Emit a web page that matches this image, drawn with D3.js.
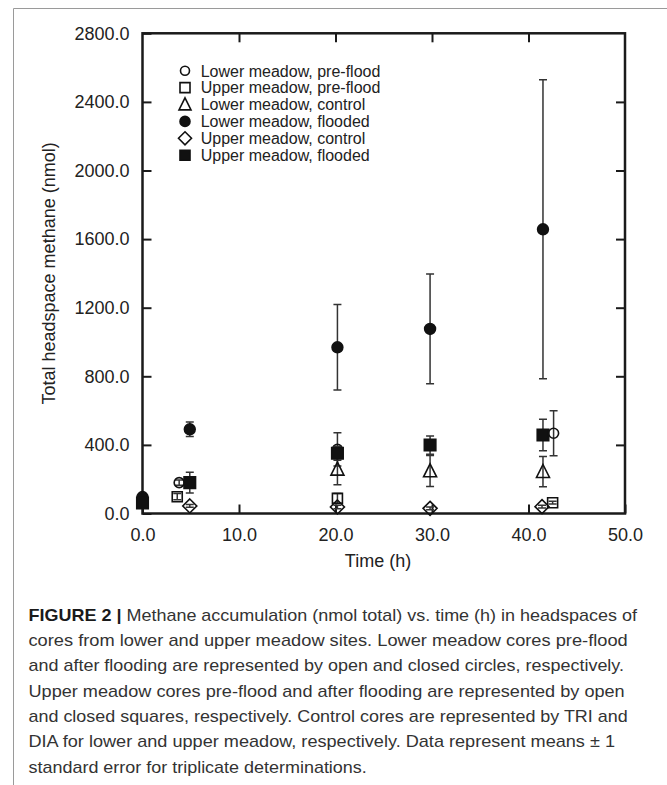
<!DOCTYPE html>
<html>
<head>
<meta charset="utf-8">
<script src="https://cdn.jsdelivr.net/npm/d3@7/dist/d3.min.js"></script>
<style>
  html, body { margin: 0; padding: 0; background: #fff; }
  svg { display: block; }
  text { font-family: "Liberation Sans", Arial, Helvetica, sans-serif; }
</style>
</head>
<body>
<svg id="chart" width="667" height="785"></svg>
<script>
// Sampling times (h), means (nmol) and standard errors for each core group
const lowerPreT = [3.8, 20.2, 42.6];
const lowerPreV = [180, 374, 468];
const lowerPreE = [15, 97, 131];

const upperPreT = [3.6, 20.2, 42.5];
const upperPreV = [98, 88, 63];
const upperPreE = [18, 28, 8];

const lowerCtlT = [20.2, 29.8, 41.5];
const lowerCtlV = [258, 248, 244];
const lowerCtlE = [90, 90, 88];

const lowerFloT = [0, 4.9, 20.2, 29.8, 41.5];
const lowerFloV = [96, 491, 969, 1076, 1657];
const lowerFloE = [15, 42, 249, 320, 872];

const upperCtlT = [4.9, 20.2, 29.8, 41.4];
const upperCtlV = [44, 38, 30, 40];
const upperCtlE = [8, 10, 8, 8];

const upperFloT = [0, 4.9, 20.2, 29.8, 41.5];
const upperFloV = [61, 180, 351, 399, 458];
const upperFloE = [10, 60, 40, 53, 92];

const legendLabels = [
  "Lower meadow, pre-flood",
  "Upper meadow, pre-flood",
  "Lower meadow, control",
  "Lower meadow, flooded",
  "Upper meadow, control",
  "Upper meadow, flooded"
];

const xTicks = [0, 10, 20, 30, 40, 50];
const yTicks = [0, 400, 800, 1200, 1600, 2000, 2400, 2800];

const captionLines = [
  "Methane accumulation (nmol total) vs. time (h) in headspaces of",
  "cores from lower and upper meadow sites. Lower meadow cores pre-flood",
  "and after flooding are represented by open and closed circles, respectively.",
  "Upper meadow cores pre-flood and after flooding are represented by open",
  "and closed squares, respectively. Control cores are represented by TRI and",
  "DIA for lower and upper meadow, respectively. Data represent means \u00b1 1",
  "standard error for triplicate determinations."
];

const svg = d3.select("#chart");

// page frame lines (left and top)
svg.append("path")
  .attr("d", "M13.5,785 V8.5 H667")
  .attr("fill", "none").attr("stroke", "#9a9a9a").attr("stroke-width", 1);

const x = d3.scaleLinear().domain([0, 50]).range([142.5, 625]);
const y = d3.scaleLinear().domain([0, 2800]).range([513.5, 33.3]);
const fmt = d3.format(".1f");

const axisColor = "#1a1a1a";

// bottom axis with labels
const gx = svg.append("g").attr("transform", `translate(0,${y(0)})`)
  .call(d3.axisBottom(x).tickValues(xTicks).tickFormat(fmt)
    .tickSizeInner(-9).tickSizeOuter(0).tickPadding(15));
// left axis with labels
const gy = svg.append("g").attr("transform", `translate(${x(0)},0)`)
  .call(d3.axisLeft(y).tickValues(yTicks).tickFormat(fmt)
    .tickSizeInner(-9).tickSizeOuter(0).tickPadding(13));
// mirrored top and right ticks
const gt = svg.append("g").attr("transform", `translate(0,${y(2800)})`)
  .call(d3.axisTop(x).tickValues(xTicks.slice(1, -1)).tickFormat("")
    .tickSizeInner(-9).tickSizeOuter(0));
const gr = svg.append("g").attr("transform", `translate(${x(50)},0)`)
  .call(d3.axisRight(y).tickValues(yTicks.slice(1, -1)).tickFormat("")
    .tickSizeInner(-9).tickSizeOuter(0));

[gx, gy, gt, gr].forEach(g => {
  g.select(".domain").remove();
  g.selectAll(".tick line").attr("stroke", axisColor).attr("stroke-width", 2);
  g.selectAll(".tick text").attr("fill", "#222")
    .style("font-size", "18px").style("font-family", "'Liberation Sans', Arial, sans-serif");
});

// plot frame
svg.append("rect")
  .attr("x", x(0)).attr("y", y(2800))
  .attr("width", x(50) - x(0)).attr("height", y(0) - y(2800))
  .attr("fill", "none").attr("stroke", axisColor).attr("stroke-width", 2.5);

// axis titles
svg.append("text")
  .attr("x", 378).attr("y", 567)
  .attr("text-anchor", "middle")
  .style("font-size", "18px").attr("fill", "#222")
  .text("Time (h)");

svg.append("text")
  .attr("transform", `translate(54.5,${(y(0) + y(2800)) / 2}) rotate(-90)`)
  .attr("text-anchor", "middle")
  .style("font-size", "18px").attr("fill", "#222")
  .text("Total headspace methane (nmol)");

// marker shapes
const markerPath = {
  circle: r => d3.symbol(d3.symbolCircle, Math.PI * r * r)(),
  square: s => `M${-s/2},${-s/2}H${s/2}V${s/2}H${-s/2}Z`,
  triangle: s => `M0,${-s*0.55}L${s/2},${s*0.45}L${-s/2},${s*0.45}Z`,
  diamond: s => `M0,${-s/2}L${s/2},0L0,${s/2}L${-s/2},0Z`
};

const series = [
  { t: lowerPreT, v: lowerPreV, e: lowerPreE, shape: "circle", size: 5, filled: false },
  { t: upperPreT, v: upperPreV, e: upperPreE, shape: "square", size: 10, filled: false },
  { t: lowerCtlT, v: lowerCtlV, e: lowerCtlE, shape: "triangle", size: 13, filled: false },
  { t: lowerFloT, v: lowerFloV, e: lowerFloE, shape: "circle", size: 5.4, filled: true },
  { t: upperCtlT, v: upperCtlV, e: upperCtlE, shape: "diamond", size: 14, filled: false },
  { t: upperFloT, v: upperFloV, e: upperFloE, shape: "square", size: 11.5, filled: true }
];

const plot = svg.append("g");
const capW = 4;

series.forEach(s => {
  const g = plot.append("g");
  const rows = s.t.map((t, i) => ({ t, v: s.v[i], e: s.e[i] }));
  // error bars
  rows.forEach(d => {
    const cx = x(d.t), top = y(d.v + d.e), bot = y(Math.max(0, d.v - d.e));
    g.append("path")
      .attr("d", `M${cx},${top}V${bot}M${cx - capW},${top}H${cx + capW}M${cx - capW},${bot}H${cx + capW}`)
      .attr("fill", "none").attr("stroke", "#333").attr("stroke-width", 1.5);
  });
  // markers
  g.selectAll("path.mk").data(rows).join("path")
    .attr("class", "mk")
    .attr("transform", d => `translate(${x(d.t)},${y(d.v)})`)
    .attr("d", markerPath[s.shape](s.size))
    .attr("fill", s.filled ? "#111" : "none")
    .attr("stroke", "#111").attr("stroke-width", 1.6);
});

// legend
const legend = svg.append("g");
const legendSizes = [4.5, 10, 12, 5, 13, 10];
legendLabels.forEach((lab, i) => {
  const s = series[i];
  const cy = 70.7 + i * 16.9;
  legend.append("path")
    .attr("transform", `translate(185,${cy})`)
    .attr("d", markerPath[s.shape](legendSizes[i]))
    .attr("fill", s.filled ? "#111" : "none")
    .attr("stroke", "#111").attr("stroke-width", 1.6);
  legend.append("text")
    .attr("x", 200.7).attr("y", cy + 5.8)
    .style("font-size", "16px").attr("fill", "#222")
    .text(lab);
});

// caption
const cap = svg.append("g").attr("fill", "#333").style("font-size", "17px");
const lineEnds = [637, 627.7, 624, 624.7, 627.7, 615, 366.8];
captionLines.forEach((line, i) => {
  const t = cap.append("text")
    .attr("x", 28.5).attr("y", 620.7 + i * 25.3)
    .attr("textLength", lineEnds[i] - 28.5)
    .attr("lengthAdjust", "spacingAndGlyphs");
  if (i === 0) {
    t.append("tspan").attr("font-weight", "bold").attr("fill", "#1a1a1a").text("FIGURE 2 | ");
  }
  t.append("tspan").text(line);
});
</script>
</body>
</html>
